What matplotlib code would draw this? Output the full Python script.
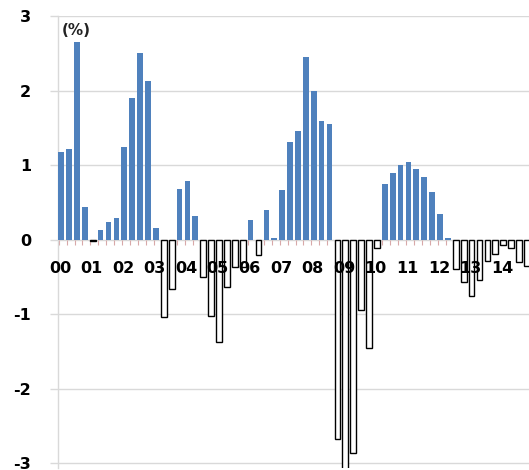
"""Quarterly change (%) bar chart, 2000Q1-2014Q4.

Positive quarters are filled blue, negative quarters are hollow.
Output: out.png (529x470)
"""
import matplotlib
matplotlib.use("Agg")
import matplotlib.pyplot as plt
import numpy as np

# palette
BLUE = "#4f81bd"
INK = "#000000"
GRID = "#d9d9d9"
TICK = "#d8a8a8"

# one value per quarter, 2000Q1 .. 2014Q4
VALUES = [
    1.17, 1.21, 2.65, 0.44,      # 2000
    -0.02, 0.13, 0.24, 0.29,     # 2001
    1.24, 1.90, 2.51, 2.13,      # 2002
    0.16, -1.04, -0.66, 0.68,    # 2003
    0.79, 0.31, -0.50, -1.03,    # 2004
    -1.37, -0.64, -0.37, -0.37,  # 2005
    0.26, -0.21, 0.39, 0.02,     # 2006
    0.67, 1.31, 1.46, 2.45,      # 2007
    2.00, 1.59, 1.55, -2.68,     # 2008
    -3.10, -2.87, -0.94, -1.45,  # 2009
    -0.12, 0.75, 0.89, 1.00,     # 2010
    1.04, 0.94, 0.84, 0.64,      # 2011
    0.34, 0.02, -0.40, -0.57,    # 2012
    -0.76, -0.55, -0.29, -0.19,  # 2013
    -0.08, -0.12, -0.30, -0.36,  # 2014
]
YEAR_LABELS = ["00", "01", "02", "03", "04", "05", "06", "07",
               "08", "09", "10", "11", "12", "13", "14"]
Y_TICKS = [-3, -2, -1, 0, 1, 2, 3]


def main() -> None:
    fig = plt.figure(figsize=(5.29, 4.70), dpi=100)
    fig.patch.set_facecolor("white")
    ax = fig.add_axes([58 / 529, 2.5 / 470, 472 / 529, 451.5 / 470])

    vals = np.array(VALUES)
    x = np.arange(len(vals))
    pos = vals >= 0

    ax.bar(x[pos], vals[pos], width=0.72, color=BLUE, edgecolor="none", zorder=3)
    ax.bar(x[~pos], vals[~pos], width=0.72, facecolor="white",
           edgecolor=INK, linewidth=1.0, zorder=3)

    ax.set_xlim(-0.4, 59.4)
    ax.set_ylim(-3.06, 3.0)

    # gridlines + axes
    ax.set_yticks(Y_TICKS)
    ax.set_yticklabels([str(t) for t in Y_TICKS], fontsize=11.5, fontweight="bold")
    ax.grid(axis="y", color=GRID, linewidth=1.0, zorder=0)
    ax.tick_params(axis="y", length=5.8, width=1.0, color=GRID, pad=13.5)
    for side in ("top", "right", "bottom"):
        ax.spines[side].set_visible(False)
    ax.spines["left"].set_color(GRID)
    ax.spines["left"].set_linewidth(1.0)

    # category ticks hanging off the zero line
    ax.set_xticks([])
    ax.vlines(x - 0.3, -0.08, 0, color=TICK, linewidth=0.8, zorder=2)

    # year labels, one per Q1
    for k, lab in enumerate(YEAR_LABELS):
        ax.text(4 * k - 0.15, -0.385, lab, fontsize=11.5, fontweight="bold",
                ha="center", va="center", color=INK, zorder=4)

    ax.text(0.1, 2.81, "(%)", fontsize=11, fontweight="bold",
            ha="left", va="center", color="#222222", zorder=4)

    fig.savefig("out.png", dpi=100, facecolor="white")
    plt.close(fig)


if __name__ == "__main__":
    main()
